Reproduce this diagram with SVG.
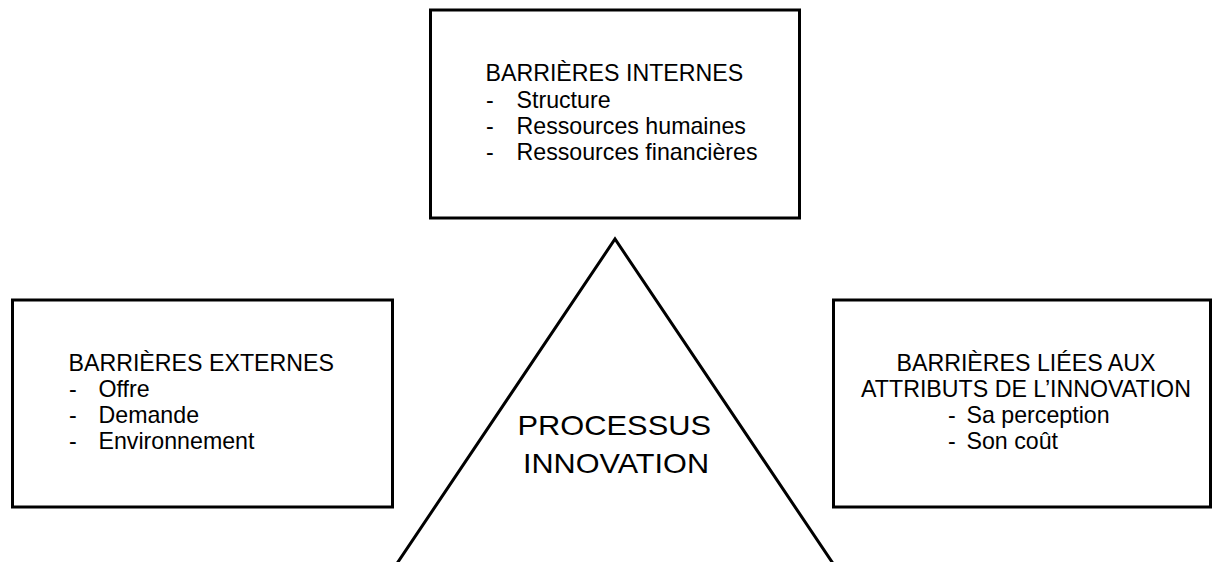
<svg xmlns="http://www.w3.org/2000/svg" width="1215" height="562" viewBox="0 0 1215 562">
<style>
.box{fill:#fff;stroke:#000;stroke-width:3}
.tri{fill:none;stroke:#000;stroke-width:3;stroke-linejoin:miter}
text{font-family:"Liberation Sans",Arial,sans-serif;fill:#000}
.t{font-size:23.2px}
.big{font-size:28.5px}
</style>
<rect width="1215" height="562" fill="#fff"/>
<g id="connectors">
<polyline class="tri" points="392.6,570 615,239 837.4,570"/>
</g>
<g id="processus">
<text class="big" x="517.5" y="434.5" textLength="193.5" lengthAdjust="spacingAndGlyphs">PROCESSUS</text>
<text class="big" x="523" y="473" textLength="186" lengthAdjust="spacingAndGlyphs">INNOVATION</text>
</g>
<g id="internes">
<rect class="box" x="430.5" y="10" width="369" height="208"/>
<text class="t" x="485.5" y="81.3">BARRIÈRES INTERNES</text>
<text class="t" x="486" y="107.5">-</text><text class="t" x="516.5" y="107.5">Structure</text>
<text class="t" x="486" y="133.7">-</text><text class="t" x="516.5" y="133.7">Ressources humaines</text>
<text class="t" x="486" y="159.5">-</text><text class="t" x="516.5" y="159.5">Ressources financières</text>
</g>
<g id="externes">
<rect class="box" x="12.5" y="300" width="380" height="207"/>
<text class="t" x="68.5" y="371">BARRIÈRES EXTERNES</text>
<text class="t" x="69" y="396.5">-</text><text class="t" x="98.5" y="396.5">Offre</text>
<text class="t" x="69" y="422.5">-</text><text class="t" x="98.5" y="422.5">Demande</text>
<text class="t" x="69" y="448.5">-</text><text class="t" x="98.5" y="448.5">Environnement</text>
</g>
<g id="attributs">
<rect class="box" x="833.5" y="300" width="377" height="207"/>
<text class="t" x="1026" y="370.5" text-anchor="middle">BARRIÈRES LIÉES AUX</text>
<text class="t" x="1026" y="397" text-anchor="middle">ATTRIBUTS DE L’INNOVATION</text>
<text class="t" x="948" y="422.5">-</text><text class="t" x="966.5" y="422.5">Sa perception</text>
<text class="t" x="948" y="448.5">-</text><text class="t" x="966.5" y="448.5">Son coût</text>
</g>
</svg>
